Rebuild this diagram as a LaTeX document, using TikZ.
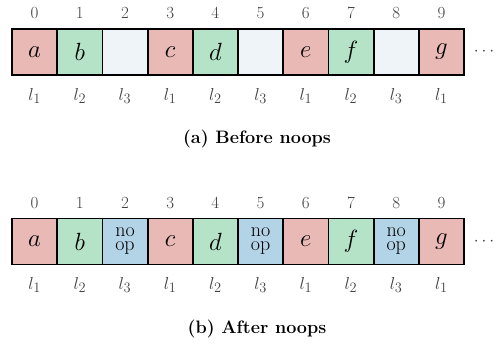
\documentclass[tikz,border=0pt]{standalone}
\usepackage{fontspec}
\begin{document}
\definecolor{cred}{HTML}{E8B9B5}
\definecolor{cgreen}{HTML}{B4E3C8}
\definecolor{cempty}{HTML}{EFF4F9}
\definecolor{cblue}{HTML}{B3D3E6}
\begin{tikzpicture}[x=1pt,y=1pt,
  cell/.style={draw=black, line width=1.8pt, minimum width=45.2pt, minimum height=46pt, inner sep=0pt, outer sep=0pt, font=\fontsize{24}{26}\selectfont},
  idx/.style={font=\fontsize{17}{18}\selectfont, text=black!75},
  lab/.style={font=\fontsize{19}{20}\selectfont, text=black!75},
  captxt/.style={font=\fontsize{18}{20}\selectfont\bfseries},
  noop/.style={cell, fill=cblue, align=center, font=\fontsize{20}{14}\selectfont}]
\useasboundingbox (0,0) rectangle (496,-346);
% top row
\foreach \i/\c/\t/\l in {0/cred/a/1,1/cgreen/b/2,2/cempty//3,3/cred/c/1,4/cgreen/d/2,5/cempty//3,6/cred/e/1,7/cgreen/f/2,8/cempty//3,9/cred/g/1}{
  \node[idx] (ta\i) at ({34.6+45.2*\i},-13) {\i};
  \node[cell, fill=\c] (a\i) at ({34.6+45.2*\i},-52) {$\t$};
  \node[lab] (la\i) at ({34.6+45.2*\i},-96) {$l_\l$};
}
\node[lab] (dotsa) at (484,-52) {$\cdots$};
\node[captxt] (capa) at (257,-139) {(a) Before noops};
% bottom row
\foreach \i/\c/\t/\l in {0/cred/a/1,1/cgreen/b/2,3/cred/c/1,4/cgreen/d/2,6/cred/e/1,7/cgreen/f/2,9/cred/g/1}{
  \node[cell, fill=\c] (b\i) at ({34.6+45.2*\i},-241.5) {$\t$};
}
\foreach \i in {2,5,8}{
  \node[noop] (b\i) at ({34.6+45.2*\i},-241.5) {no\\op};
}
\foreach \i/\l in {0/1,1/2,2/3,3/1,4/2,5/3,6/1,7/2,8/3,9/1}{
  \node[idx] (tb\i) at ({34.6+45.2*\i},-203) {\i};
  \node[lab] (lb\i) at ({34.6+45.2*\i},-285) {$l_\l$};
}
\node[lab] (dotsb) at (484,-241.5) {$\cdots$};
\node[captxt] (capb) at (257,-329) {(b) After noops};
\end{tikzpicture}
\end{document}
